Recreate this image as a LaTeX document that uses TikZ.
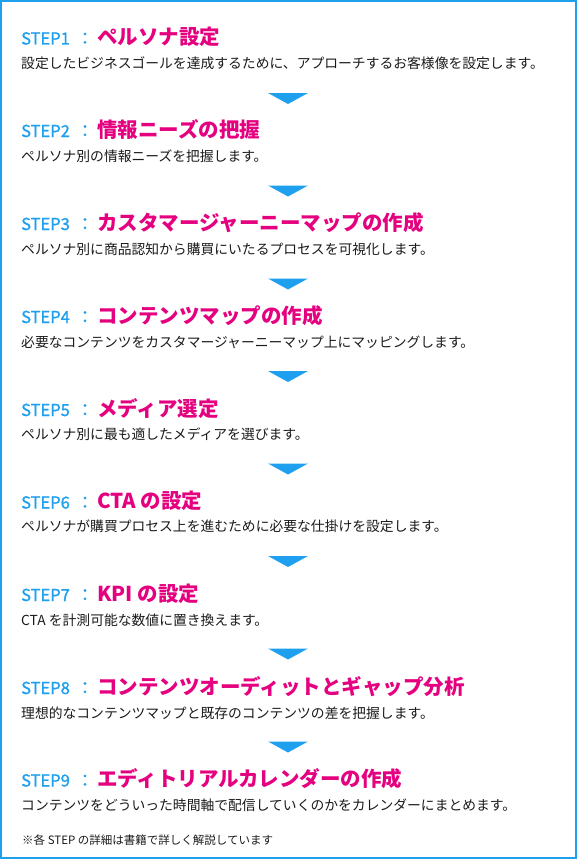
\documentclass[tikz,border=0pt]{standalone}
\usepackage{fontspec}
\setmainfont{Noto Sans CJK JP}
\newfontfamily\steplabelfont[FakeBold=1.3]{Noto Sans CJK JP}
\usetikzlibrary{positioning}
\definecolor{stepblue}{RGB}{30,160,238}
\definecolor{titlepink}{RGB}{228,0,127}
\definecolor{bodyblack}{RGB}{26,26,26}
\tikzset{
	steplabel/.style={anchor=base west, inner sep=0pt, text=stepblue, font=\steplabelfont\fontsize{16.5}{16.5}\selectfont},
	stepcolon/.style={anchor=base, inner sep=0pt, text=stepblue, font=\steplabelfont\fontsize{17}{17}\selectfont},
	steptitle/.style={anchor=base west, inner sep=0pt, text=titlepink, font=\fontsize{20.5}{20.5}\selectfont\bfseries},
	stepbody/.style={anchor=base west, inner sep=0pt, text=bodyblack, font=\fontsize{13.8}{13.8}\selectfont},
	marker/.style={fill=stepblue},
	frame/.style={draw=stepblue, line width=2pt}
}

\begin{document}
\begin{tikzpicture}[x=1pt, y=-1pt]
		\useasboundingbox (0,0) rectangle (577,859);
		\draw[frame] (1,1) rectangle (576,858);
		
		% step 1
		\node[steplabel] (s1) at (21,44.5) {STEP1};
		\node[stepcolon] (c1) at (85,44.5) {：};
		\node[steptitle] (t1) at (97,44.5) {ペルソナ設定};
		\node[stepbody]  (d1) at (21,68.5) {設定したビジネスゴールを達成するために、アプローチするお客様像を設定します。};
		\fill[marker] (268,93) -- (308,93) -- (288,104) -- cycle;
		
		% step 2
		\node[steplabel] (s2) at (21,137) {STEP2};
		\node[stepcolon] (c2) at (85,137) {：};
		\node[steptitle] (t2) at (97,137) {情報ニーズの把握};
		\node[stepbody]  (d2) at (21,161) {ペルソナ別の情報ニーズを把握します。};
		\fill[marker] (268,185.5) -- (308,185.5) -- (288,196.5) -- cycle;
		
		% step 3
		\node[steplabel] (s3) at (21,230) {STEP3};
		\node[stepcolon] (c3) at (85,230) {：};
		\node[steptitle] (t3) at (97,230) {カスタマージャーニーマップの作成};
		\node[stepbody]  (d3) at (21,254) {ペルソナ別に商品認知から購買にいたるプロセスを可視化します。};
		\fill[marker] (268,278.5) -- (308,278.5) -- (288,289.5) -- cycle;
		
		% step 4
		\node[steplabel] (s4) at (21,323) {STEP4};
		\node[stepcolon] (c4) at (85,323) {：};
		\node[steptitle] (t4) at (97,323) {コンテンツマップの作成};
		\node[stepbody]  (d4) at (21,347) {必要なコンテンツをカスタマージャーニーマップ上にマッピングします。};
		\fill[marker] (268,371) -- (308,371) -- (288,382) -- cycle;
		
		% step 5
		\node[steplabel] (s5) at (21,416) {STEP5};
		\node[stepcolon] (c5) at (85,416) {：};
		\node[steptitle] (t5) at (97,416) {メディア選定};
		\node[stepbody]  (d5) at (21,439) {ペルソナ別に最も適したメディアを選びます。};
		\fill[marker] (268,463.5) -- (308,463.5) -- (288,474.5) -- cycle;
		
		% step 6
		\node[steplabel] (s6) at (21,508.5) {STEP6};
		\node[stepcolon] (c6) at (85,508.5) {：};
		\node[steptitle] (t6) at (97,508.5) {CTA の設定};
		\node[stepbody]  (d6) at (21,531.5) {ペルソナが購買プロセス上を進むために必要な仕掛けを設定します。};
		\fill[marker] (268,556) -- (308,556) -- (288,567) -- cycle;
		
		% step 7
		\node[steplabel] (s7) at (21,601) {STEP7};
		\node[stepcolon] (c7) at (85,601) {：};
		\node[steptitle] (t7) at (97,601) {KPI の設定};
		\node[stepbody]  (d7) at (21,625) {CTA を計測可能な数値に置き換えます。};
		\fill[marker] (268,648.5) -- (308,648.5) -- (288,659.5) -- cycle;
		
		% step 8
		\node[steplabel] (s8) at (21,694) {STEP8};
		\node[stepcolon] (c8) at (85,694) {：};
		\node[steptitle] (t8) at (97,694) {コンテンツオーディットとギャップ分析};
		\node[stepbody]  (d8) at (21,718) {理想的なコンテンツマップと既存のコンテンツの差を把握します。};
		\fill[marker] (268,741.5) -- (308,741.5) -- (288,752.5) -- cycle;
		
		% step 9
		\node[steplabel] (s9) at (21,786.5) {STEP9};
		\node[stepcolon] (c9) at (85,786.5) {：};
		\node[steptitle] (t9) at (97,786.5) {エディトリアルカレンダーの作成};
		\node[stepbody]  (d9) at (21,810.5) {コンテンツをどういった時間軸で配信していくのかをカレンダーにまとめます。};
		
		\node[stepbody, font=\fontsize{11.5}{11.5}\selectfont] (note) at (22,844) {※各 STEP の詳細は書籍で詳しく解説しています};
	\end{tikzpicture}
\end{document}
